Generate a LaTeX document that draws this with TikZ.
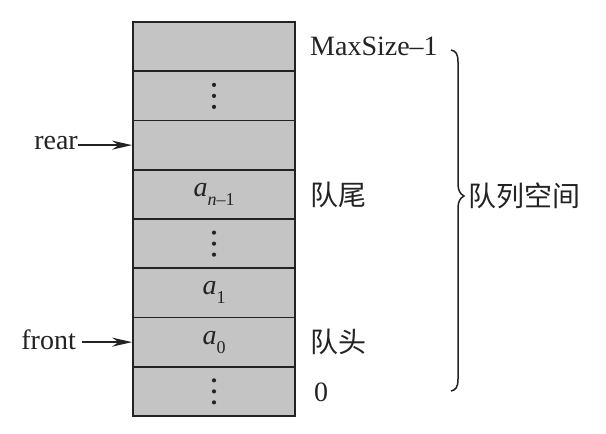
\documentclass[tikz,border=0pt]{standalone}
\usepackage{fontspec}
\setmainfont{Liberation Serif}
\newfontfamily\cjk{Noto Sans CJK SC}
\usetikzlibrary{arrows.meta}
\definecolor{cellgray}{RGB}{196,196,196}
\definecolor{ink}{RGB}{35,35,35}
\newcommand{\subtxt}[1]{\raisebox{-0.32em}{\fontsize{18}{20}\selectfont #1}}
\begin{document}
\begin{tikzpicture}[x=1pt,y=-1pt,
  cell/.style={draw=ink,line width=1.8pt,fill=cellgray,minimum width=162pt,minimum height=49.25pt,inner sep=0pt,anchor=center},
  lbl/.style={font=\fontsize{28}{30}\selectfont,text=ink,inner sep=0pt},
  clbl/.style={font=\cjk\fontsize{28}{30}\selectfont,text=ink,inner sep=0pt},
  ptr/.style={draw=ink,line width=1.6pt,-{Stealth[length=20pt,width=9pt]}},
  dotmark/.style={fill=ink,draw=none}]
\useasboundingbox (0,0) rectangle (606,434);
\fill[white] (0,0) rectangle (606,434);
\foreach \i in {1,...,8} {
  \node[cell] (r\i) at (214,{22+49.25*(\i-0.5)}) {};
}
% dots
\foreach \r in {2,5,8} {
  \foreach \d in {-11,0,11} {
    \fill[dotmark] ([yshift=-\d pt]r\r.center) circle (2.1pt);
  }
}
\node[lbl] (an1) at (r4.center) {\textit{a}\subtxt{\textit{n}\textendash1}};
\node[lbl] (a1) at (r6.center) {\textit{a}\subtxt{1}};
\node[lbl] (a0) at (r7.center) {\textit{a}\subtxt{0}};
% right labels
\node[lbl,anchor=west] (max) at (310,46) {MaxSize\textendash1};
\node[clbl,anchor=west] (tail) at (310,195) {队尾};
\node[clbl,anchor=west] (head) at (310,342) {队头};
\node[lbl,anchor=west] (zero) at (314,392) {0};
% pointers
\node[lbl,anchor=east] (rear) at (78,143) {rear};
\node[lbl,anchor=east] (front) at (76,340) {front};
\draw[ptr] (rear.east |- r3.west) -- (r3.west);
\draw[ptr] ([xshift=6pt]front.east |- r7.west) -- (r7.west);
% brace
\coordinate (btop) at (451,50);
\coordinate (btip) at (464,196);
\coordinate (bbot) at (451,391);
\draw[ink,line width=1.5pt]
  (btop) .. controls (456,51) and (458,54) .. (458,62)
  -- (458,184) .. controls (458,190) and (460,194) .. (btip)
  .. controls (460,198) and (458,202) .. (458,208)
  -- (458,379) .. controls (458,387) and (456,390) .. (bbot);
\node[clbl,anchor=west] (space) at (468,196) {队列空间};
\end{tikzpicture}
\end{document}
